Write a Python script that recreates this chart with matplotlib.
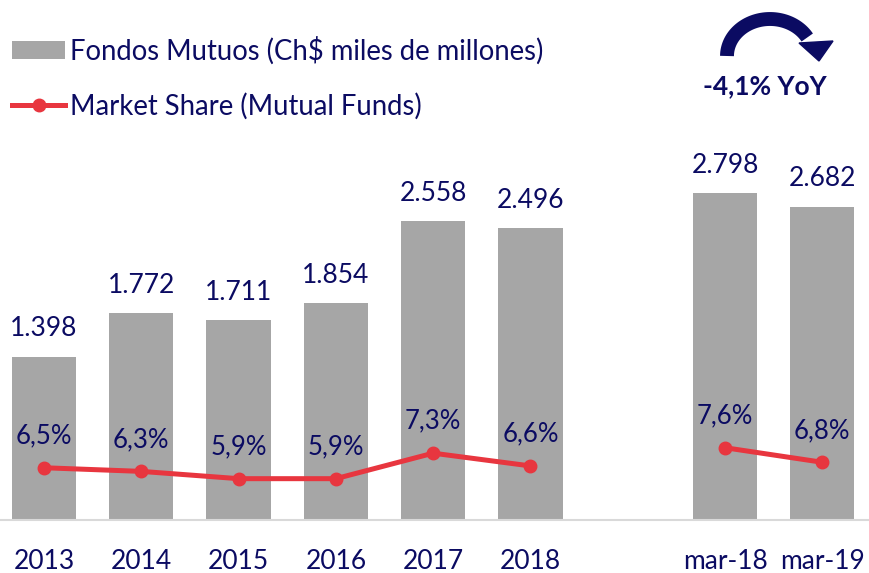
import matplotlib
matplotlib.use("Agg")
import numpy as np
import matplotlib.pyplot as plt
from matplotlib.patches import Patch, Polygon
from matplotlib.lines import Line2D
from matplotlib.transforms import Affine2D

plt.rcParams['font.family'] = ['Lato', 'DejaVu Sans']

categories = ["2013", "2014", "2015", "2016", "2017", "2018", "mar-18", "mar-19"]
positions = [0, 1, 2, 3, 4, 5, 7, 8]
fondos = [1398, 1772, 1711, 1854, 2558, 2496, 2798, 2682]
share = [6.5, 6.3, 5.9, 5.9, 7.3, 6.6, 7.6, 6.8]
annual_n = 6

NAVY = "#0B0B62"
GRAY = "#A6A6A6"
RED = "#E8363F"

W, H = 869, 573
fig = plt.figure(figsize=(W / 100, H / 100), dpi=100)
ax = fig.add_axes([0, (H - 520) / H, 1, 380 / H])
ax2 = ax.twinx()

ax.bar(positions, fondos, width=0.66, color=GRAY, zorder=1)
ax.set_xlim(-0.452, 8.48)
ax.set_ylim(0, 380 / 0.1168)
ax2.set_ylim(3.63, 24.5)

for x, v in zip(positions, fondos):
    ax.annotate(f"{v:,}".replace(",", "."), (x, v), xytext=(0, 20), textcoords="offset points",
                ha="center", va="center", fontsize=19, color=NAVY)

ax2.plot(positions[:annual_n], share[:annual_n], color=RED, lw=3.6, marker="o", ms=9, zorder=3)
ax2.plot(positions[annual_n:], share[annual_n:], color=RED, lw=3.6, marker="o", ms=9, zorder=3)
for x, v in zip(positions, share):
    ax2.annotate(f"{v:.1f}%".replace(".", ","), (x, v), xytext=(0, 23), textcoords="offset points",
                 ha="center", va="center", fontsize=18.5, color=NAVY)

ax.set_xticks(positions)
ax.set_xticklabels(categories, fontsize=19, color=NAVY)
ax.tick_params(axis="x", length=0, pad=21)
ax.set_yticks([])
ax2.set_yticks([])
for s in ["top", "left", "right"]:
    ax.spines[s].set_visible(False)
    ax2.spines[s].set_visible(False)
ax2.spines["bottom"].set_visible(False)
ax.spines["bottom"].set_color("#D9D9D9")
ax.spines["bottom"].set_linewidth(1.5)

handles = [Patch(facecolor=GRAY, edgecolor="none"),
           Line2D([0], [0], color=RED, lw=3.6, marker="o", ms=9)]
labels = ["Fondos Mutuos (Ch$ miles de millones)", "Market Share (Mutual Funds)"]
fig.legend(handles, labels, loc="upper left", bbox_to_anchor=(0.001, 0.956), frameon=False,
           fontsize=19.8, labelcolor=NAVY, handlelength=1.95, handleheight=0.6,
           handletextpad=0.15, labelspacing=1.02, borderaxespad=0)

# curved arrow decoration (pixel coordinates, origin top-left)
px = Affine2D().scale(1 / W, -1 / H).translate(0, 1) + fig.transFigure
theta = np.radians(np.linspace(180, 30, 60))
cx, cy, a, b = 770, 56, 43, 37
fig.add_artist(Line2D(cx + a * np.cos(theta), cy - b * np.sin(theta), transform=px,
                      color=NAVY, lw=10, solid_capstyle="butt"))
fig.add_artist(Polygon([(799, 43), (833, 41), (819, 61)], closed=True, transform=px,
                       facecolor=NAVY, edgecolor=NAVY, lw=1))
fig.text(765 / W, 1 - 86 / H, "-4,1% YoY", ha="center", va="center", fontsize=19,
         fontweight="bold", color=NAVY)

fig.savefig("out.png", dpi=100)
